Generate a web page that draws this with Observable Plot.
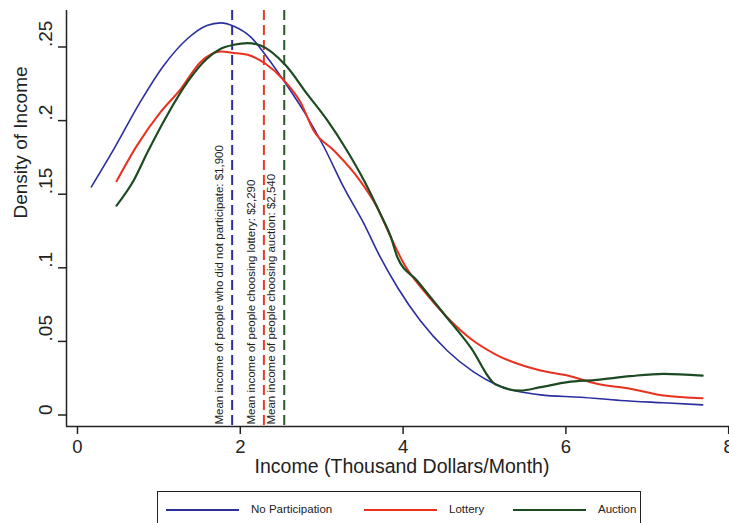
<!DOCTYPE html>
<html>
<head>
<meta charset="utf-8">
<script src="https://cdn.jsdelivr.net/npm/d3@7"></script>
<script src="https://cdn.jsdelivr.net/npm/@observablehq/plot@0.6"></script>
<style>
  html, body { margin: 0; padding: 0; background: #fff; }
  #wrap { position: relative; width: 729px; height: 523px; overflow: hidden; font-family: "Liberation Sans", Arial, sans-serif; }
  #legend { position: absolute; left: 157px; top: 491px; width: 484px; height: 60px; border: 1.5px solid #222; box-sizing: border-box; }
  .item { position: absolute; top: 10px; font-size: 11.5px; color: #222; line-height: 14px; }
  .swatch { position: absolute; top: 17px; height: 0; border-top-width: 2px; border-top-style: solid; }
</style>
</head>
<body>
<div id="wrap"></div>
<script>
// Kernel density of monthly income (thousand dollars) by group
const seriesNames = ["No Participation", "Lottery", "Auction"];
const seriesColors = ["#2b2f9e", "#e8311f", "#1e4a22"];
const seriesWidths = [1.6, 2, 2.2];

const noPartX = [0.17, 0.45, 0.77, 1.06, 1.35, 1.59, 1.76, 1.92, 2.13, 2.33, 2.56, 2.80, 3.03, 3.27, 3.52, 3.72, 3.93, 4.21, 4.54, 4.87, 5.14, 5.69, 6.18, 6.67, 7.20, 7.68];
const noPartY = [0.155, 0.181, 0.2125, 0.2374, 0.2556, 0.2646, 0.2664, 0.2641, 0.2567, 0.2431, 0.225, 0.2046, 0.1819, 0.1548, 0.1299, 0.1072, 0.0868, 0.0642, 0.0438, 0.0291, 0.0207, 0.0137, 0.0121, 0.0099, 0.0083, 0.0069];

const lotteryX = [0.48, 0.73, 1.02, 1.27, 1.51, 1.76, 1.92, 2.09, 2.31, 2.54, 2.74, 2.90, 3.15, 3.44, 3.68, 3.85, 4.01, 4.25, 4.54, 4.83, 5.14, 5.69, 6.02, 6.38, 6.79, 7.20, 7.68];
const lotteryY = [0.1588, 0.183, 0.2057, 0.2216, 0.2397, 0.2469, 0.246, 0.2447, 0.2386, 0.2272, 0.2125, 0.1933, 0.1797, 0.1615, 0.1412, 0.1208, 0.1027, 0.0846, 0.0664, 0.0518, 0.0411, 0.0302, 0.0268, 0.0212, 0.0178, 0.0132, 0.0114];

const auctionX = [0.48, 0.69, 0.86, 1.10, 1.35, 1.59, 1.76, 1.92, 2.09, 2.25, 2.56, 2.82, 3.07, 3.31, 3.52, 3.72, 3.85, 3.93, 4.17, 4.50, 4.83, 5.14, 5.44, 5.69, 6.02, 6.38, 6.79, 7.20, 7.68];
const auctionY = [0.1423, 0.1593, 0.1785, 0.2035, 0.2261, 0.242, 0.2488, 0.2515, 0.2526, 0.251, 0.2374, 0.2182, 0.2001, 0.1797, 0.1593, 0.1367, 0.1208, 0.1072, 0.0914, 0.0688, 0.046, 0.0207, 0.0166, 0.0189, 0.0223, 0.0239, 0.0264, 0.028, 0.0268];

// Group means (thousand dollars) and their annotations
const meanValues = [1.9, 2.29, 2.54];
const meanLabels = [
  "Mean income of people who did not participate: $1,900",
  "Mean income of people choosing lottery: $2,290",
  "Mean income of people choosing auction: $2,540"
];
const meanColors = ["#2e2ea0", "#e83a2a", "#2a5a2a"];

const xTicks = [0, 2, 4, 6, 8];
const xTickLabels = ["0", "2", "4", "6", "8"];
const yTicks = [0, 0.05, 0.1, 0.15, 0.2, 0.25];
const yTickLabels = ["0", ".05", ".1", ".15", ".2", ".25"];
const xTitle = "Income (Thousand Dollars/Month)";
const yTitle = "Density of Income";

const xDomain = [-0.135, 8.01];
const yDomain = [-0.0078, 0.2748];

const curves = [
  [noPartX, noPartY],
  [lotteryX, lotteryY],
  [auctionX, auctionY]
].flatMap(([xs, ys], s) => xs.map((x, i) => ({series: seriesNames[s], x, y: ys[i]})));

const means = meanValues.map((v, i) => ({x: v, label: meanLabels[i], color: meanColors[i]}));

const ink = "#222";

const chart = Plot.plot({
  width: 729,
  height: 483,
  marginLeft: 66,
  marginRight: 0,
  marginTop: 10,
  marginBottom: 57,
  style: {fontFamily: "'Liberation Sans', Arial, sans-serif", fontSize: "18.5px", color: ink, background: "#fff", overflow: "visible"},
  x: {domain: xDomain},
  y: {domain: yDomain},
  color: {domain: seriesNames, range: seriesColors},
  marks: [
    Plot.axisX({ticks: xTicks, tickFormat: (d, i) => xTickLabels[i], tickSize: 8, tickPadding: 5, fontSize: 18.5, strokeWidth: 1.5, label: null}),
    Plot.axisY({ticks: yTicks, tickFormat: () => "", tickSize: 8, strokeWidth: 1.5, label: null}),
    Plot.text(yTicks, {y: d => d, text: (d, i) => yTickLabels[i], frameAnchor: "left", dx: -21, rotate: -90, fontSize: 19, fill: ink}),
    Plot.text([xTitle], {frameAnchor: "bottom", dx: 4, dy: 46.5, fontSize: 19.5, fill: ink}),
    Plot.text([yTitle], {frameAnchor: "left", dx: -46, rotate: -90, fontSize: 19, fill: ink}),
    Plot.ruleX(means, {x: "x", stroke: "color", strokeWidth: 2, strokeDasharray: "10,5"}),
    Plot.text(means, {x: "x", text: "label", frameAnchor: "bottom", dx: -9, dy: -2, rotate: -90, textAnchor: "start", fontSize: 11.5, fill: ink}),
    Plot.line(curves, {x: "x", y: "y", z: "series", stroke: "series", strokeWidth: d => seriesWidths[seriesNames.indexOf(d.series)], curve: "monotone-x"}),
    Plot.ruleX([xDomain[0]], {stroke: ink, strokeWidth: 1.5}),
    Plot.ruleY([yDomain[0]], {stroke: ink, strokeWidth: 1.5})
  ]
});

const wrap = document.getElementById("wrap");
wrap.appendChild(chart);

// Legend below the plot
const legend = document.createElement("div");
legend.id = "legend";
const swatchLeft = [8, 206, 355];
const swatchWidth = 73;
const labelLeft = [93, 291, 440];
seriesNames.forEach((name, i) => {
  const sw = document.createElement("div");
  sw.className = "swatch";
  sw.style.left = swatchLeft[i] + "px";
  sw.style.width = swatchWidth + "px";
  sw.style.borderTopColor = seriesColors[i];
  legend.appendChild(sw);
  const lab = document.createElement("div");
  lab.className = "item";
  lab.style.left = labelLeft[i] + "px";
  lab.textContent = name;
  legend.appendChild(lab);
});
wrap.appendChild(legend);
</script>
</body>
</html>
